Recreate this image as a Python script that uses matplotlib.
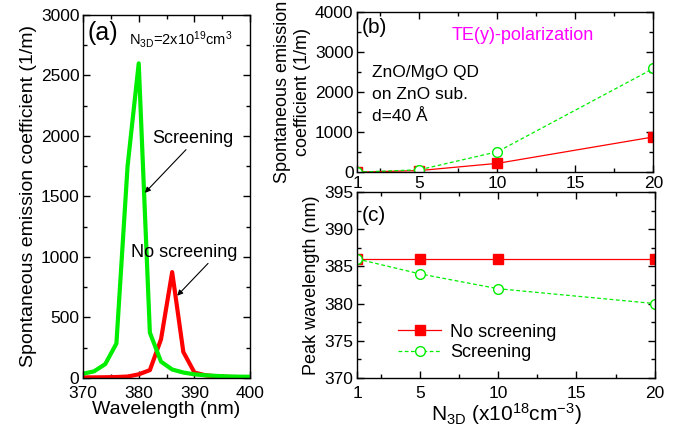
import matplotlib
matplotlib.use("Agg")
import matplotlib.pyplot as plt
from matplotlib.ticker import MultipleLocator, FixedLocator

plt.rcParams['font.family'] = ['Liberation Sans', 'DejaVu Sans']
plt.rcParams['mathtext.fontset'] = 'custom'
plt.rcParams['mathtext.rm'] = 'Liberation Sans'
plt.rcParams['mathtext.it'] = 'Liberation Sans'
plt.rcParams['mathtext.default'] = 'regular'

# ---- data ----
wavelength = [370, 372, 374, 376, 378, 380, 382, 384, 386, 388, 390, 392, 394, 396, 398, 400]
spec_screening = [35, 55, 115, 285, 1750, 2600, 375, 135, 70, 45, 30, 22, 17, 13, 11, 10]
spec_noscreening = [5, 5, 6, 8, 12, 30, 65, 320, 875, 215, 45, 22, 14, 9, 7, 5]

n3d = [1, 5, 10, 20]
emis_noscreening = [0, 40, 220, 880]
emis_screening = [0, 60, 510, 2590]
peak_noscreening = [386, 386, 386, 386]
peak_screening = [386, 384, 382, 380]

GREEN = '#00ee00'
RED = '#ff0000'

fig = plt.figure(figsize=(6.8, 4.46), dpi=100)

def style(ax):
    ax.tick_params(which='both', direction='in', top=True, right=True, labelsize=12.5)
    ax.tick_params(which='major', length=5, width=1)
    ax.tick_params(which='minor', length=3, width=1)
    ax.tick_params(axis='x', pad=6)
    ax.tick_params(axis='y', pad=2.5)
    for s in ax.spines.values():
        s.set_linewidth(1)

# ---- panel (a) ----
axa = fig.add_axes([0.122, 0.1525, 0.246, 0.814])
axa.plot(wavelength, spec_noscreening, color=RED, lw=3)
axa.plot(wavelength, spec_screening, color=GREEN, lw=3)
axa.set_xlim(370, 400)
axa.set_ylim(0, 3000)
axa.xaxis.set_major_locator(MultipleLocator(10))
axa.xaxis.set_minor_locator(MultipleLocator(5))
axa.yaxis.set_major_locator(MultipleLocator(500))
axa.yaxis.set_minor_locator(MultipleLocator(250))
style(axa)
axa.set_xlabel('Wavelength (nm)', fontsize=14, labelpad=0)
axa.set_ylabel('Spontaneous emission coefficient (1/m)', fontsize=14, labelpad=3)
axa.text(370.9, 2850, '(a)', fontsize=18, va='center', ha='left')
axa.text(378.3, 2800, r'N$_{3D}$=2x10$^{19}$cm$^{3}$', fontsize=10.5, va='center', ha='left')
axa.annotate('Screening', xy=(381.1, 1530), xytext=(382.4, 1980), fontsize=13,
             va='center', ha='left',
             arrowprops=dict(arrowstyle='-|>', color='black', lw=0.8, mutation_scale=8,
                             shrinkA=0, shrinkB=0, relpos=(0.45, 0.0)))
axa.annotate('No screening', xy=(386.9, 680), xytext=(378.6, 1040), fontsize=13,
             va='center', ha='left',
             arrowprops=dict(arrowstyle='-|>', color='black', lw=0.8, mutation_scale=8,
                             shrinkA=0, shrinkB=0, relpos=(0.75, 0.0)))

# ---- panel (b) ----
axb = fig.add_axes([0.525, 0.614, 0.436, 0.359])
axb.plot(n3d, emis_noscreening, color=RED, lw=0.9, marker='s', ms=7,
         mfc=RED, mec=RED)
axb.plot(n3d, emis_screening, color=GREEN, lw=0.9, ls='--', dashes=(3, 2), marker='o', ms=7,
         mfc='white', mec=GREEN, mew=1)
axb.set_xlim(1, 20)
axb.set_ylim(0, 4000)
axb.xaxis.set_major_locator(FixedLocator([1, 5, 10, 15, 20]))
axb.xaxis.set_minor_locator(FixedLocator([2.5, 7.5, 12.5, 17.5]))
axb.yaxis.set_major_locator(MultipleLocator(1000))
axb.yaxis.set_minor_locator(MultipleLocator(500))
style(axb)
axb.tick_params(axis='x', pad=2.5)
axb.set_ylabel('Spontaneous emission\ncoefficient (1/m)', fontsize=13, labelpad=3)
axb.text(0.017, 0.906, '(b)', transform=axb.transAxes, fontsize=15, va='center', ha='left')
axb.text(0.319, 0.856, 'TE(y)-polarization', transform=axb.transAxes, fontsize=13,
         color='#ff00ff', va='center', ha='left')
for i, line in enumerate(['ZnO/MgO QD', 'on ZnO sub.', 'd=40 Å']):
    axb.text(0.05, 0.62 - i * 0.135, line, transform=axb.transAxes, fontsize=12.5,
             va='center', ha='left')

# ---- panel (c) ----
axc = fig.add_axes([0.525, 0.1525, 0.438, 0.417])
axc.plot(n3d, peak_noscreening, color=RED, lw=0.9, marker='s', ms=7,
         mfc=RED, mec=RED, label='No screening')
axc.plot(n3d, peak_screening, color=GREEN, lw=0.9, ls='--', dashes=(3, 2), marker='o', ms=7,
         mfc='white', mec=GREEN, mew=1, label='Screening')
axc.set_xlim(1, 20)
axc.set_ylim(370, 395)
axc.xaxis.set_major_locator(FixedLocator([1, 5, 10, 15, 20]))
axc.xaxis.set_minor_locator(FixedLocator([2.5, 7.5, 12.5, 17.5]))
axc.yaxis.set_major_locator(MultipleLocator(5))
axc.yaxis.set_minor_locator(MultipleLocator(2.5))
style(axc)
axc.set_ylabel('Peak wavelength (nm)', fontsize=13, labelpad=3)
axc.set_xlabel(r'N$_{3D}$ (x10$^{18}$cm$^{-3}$)', fontsize=15, labelpad=0)
axc.text(0.017, 0.876, '(c)', transform=axc.transAxes, fontsize=15, va='center', ha='left')
axc.legend(loc='upper left', bbox_to_anchor=(0.095, 0.36), frameon=False, fontsize=13,
           handlelength=2.4, handletextpad=0.5, labelspacing=0.2, borderpad=0.2)

fig.savefig('out.png', dpi=100)
